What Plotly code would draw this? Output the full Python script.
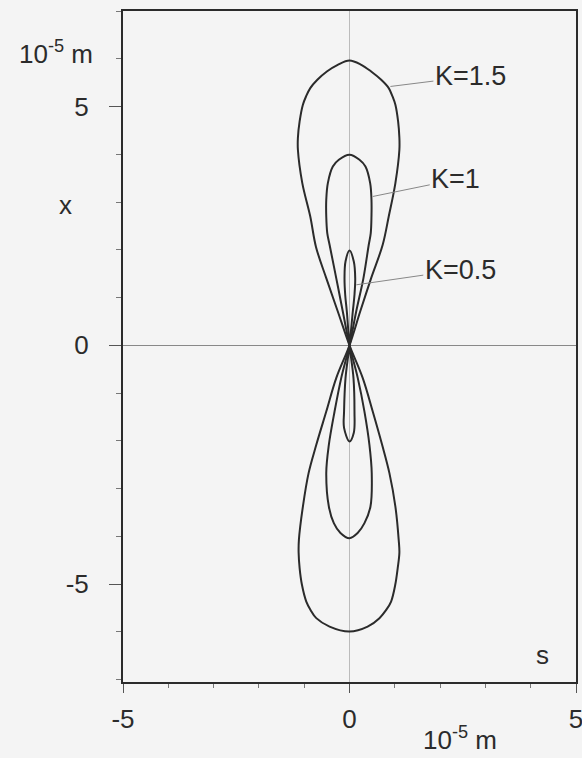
import plotly.graph_objects as go

# ---- data (units of 1e-5 m) ----
k15_s = [0, 0.236, 0.478, 0.733, 0.866, 1.013, 1.101, 1.101, 1.073, 1.013, 0.95, 0.866, 0.70, 0.478, 0.26, 0,
         -0.26, -0.50, -0.71, -0.866, -0.96, -1.029, -1.101, -1.139, -1.139, -1.042, -0.866, -0.74, -0.513, -0.258, 0,
         0.293, 0.513, 0.72, 0.881, 1.013, 1.086, 1.101, 1.064, 1.01, 0.918, 0.81, 0.661, 0.40, 0,
         -0.44, -0.733, -0.86, -0.954, -1.05, -1.101, -1.123, -1.117, -1.029, -0.903, -0.733, -0.513, -0.293, 0]
k15_x = [0, 0.708, 1.407, 2.105, 2.697, 3.397, 4.094, 4.346, 4.687, 5.037, 5.21, 5.386, 5.56, 5.734, 5.874, 5.964,
         5.874, 5.734, 5.56, 5.386, 5.21, 5.037, 4.687, 4.346, 4.094, 3.397, 2.697, 2.06, 1.407, 0.708, 0,
         -0.687, -1.387, -2.084, -2.676, -3.376, -4.073, -4.345, -4.666, -5.015, -5.365, -5.54, -5.713, -5.89, -5.994,
         -5.89, -5.713, -5.54, -5.365, -5.015, -4.666, -4.345, -4.073, -3.376, -2.676, -2.084, -1.387, -0.687, 0]

k10_s = [0, 0.148, 0.308, 0.425, 0.469, 0.485, 0.485, 0.456, 0.352, 0.22, 0,
         -0.235, -0.368, -0.478, -0.513, -0.513, -0.491, -0.44, -0.293, -0.148, 0,
         0.183, 0.33, 0.44, 0.491, 0.463, 0.33, 0.18, 0,
         -0.2, -0.346, -0.456, -0.513, -0.456, -0.33, -0.183, 0]
k10_x = [0, 0.708, 1.407, 2.105, 2.35, 2.697, 3.047, 3.397, 3.744, 3.885, 3.99,
         3.885, 3.744, 3.397, 3.047, 2.697, 2.35, 2.105, 1.407, 0.708, 0,
         -0.687, -1.387, -2.084, -2.676, -3.376, -3.724, -3.93, -4.04,
         -3.93, -3.724, -3.376, -2.676, -2.084, -1.387, -0.687, 0]

k05_s = [0, 0.073, 0.11, 0.126, 0.095, 0,
         -0.088, -0.11, -0.095, -0.059, 0,
         0.088, 0.11, 0.095, 0,
         -0.12, -0.12, -0.088, 0]
k05_x = [0, 0.708, 1.058, 1.407, 1.755, 1.985,
         1.755, 1.407, 1.058, 0.708, 0,
         -0.687, -1.387, -1.832, -2.015,
         -1.728, -1.387, -0.687, 0]

curve_labels = ["K=1.5", "K=1", "K=0.5"]
label_points_s = [0.903, 0.513, 0.15]
label_points_x = [5.42, 3.116, 1.267]

tick_vals = [-5, 0, 5]
tick_text = ["-5", "0", "5"]

# ---- figure ----
LINE = "#2b2b2b"
FONT = "Liberation Sans, Arial, sans-serif"
FS = 26

fig = go.Figure()
for s, x in [(k15_s, k15_x), (k10_s, k10_x), (k05_s, k05_x)]:
    fig.add_trace(go.Scatter(x=s, y=x, mode="lines",
                             line=dict(color=LINE, width=2, shape="spline", smoothing=1),
                             showlegend=False, hoverinfo="skip"))

offsets = [(80, -10), (83, -17), (104, -15)]
for lab, ps, px, (ax, ay) in zip(curve_labels, label_points_s, label_points_x, offsets):
    fig.add_annotation(x=ps, y=px, text=lab, showarrow=True, arrowhead=0,
                       arrowwidth=1, arrowcolor="#888", ax=ax, ay=ay,
                       xanchor="center", yanchor="middle",
                       font=dict(family=FONT, size=27, color="#2b2b2b"))

def paper_text(txt, x, y, yanchor="middle"):
    fig.add_annotation(xref="paper", yref="paper", x=x, y=y, text=txt,
                       showarrow=False, xanchor="center", yanchor=yanchor,
                       font=dict(family=FONT, size=FS, color="#2b2b2b"))

paper_text("10<sup>-5</sup> m", -0.147, 0.911, "bottom")
paper_text("x", -0.128, 0.711)
paper_text("s", 0.927, 0.040)
paper_text("10<sup>-5</sup> m", 0.744, -0.1125, "bottom")

axis_common = dict(showline=True, mirror=True, linecolor="#2b2b2b", linewidth=2,
                   showgrid=False, ticks="outside", tickcolor="#555", tickwidth=1,
                   tickvals=tick_vals, ticktext=tick_text, automargin=False,
                   ticklabeloverflow="allow",
                   tickfont=dict(family=FONT, size=FS, color="#2b2b2b"))

fig.update_xaxes(range=[-5, 5], ticklen=9, zeroline=True, zerolinecolor="#bbbbbb",
                 zerolinewidth=1, ticklabelstandoff=4,
                 minor=dict(dtick=1, ticks="outside", ticklen=4, tickcolor="#777"),
                 **axis_common)
fig.update_yaxes(range=[-7.05, 7.0], ticklen=12, zeroline=True, zerolinecolor="#888888",
                 zerolinewidth=1, ticklabelstandoff=15,
                 minor=dict(dtick=1, ticks="outside", ticklen=5, tickcolor="#777"),
                 **axis_common)

fig.update_layout(width=582, height=758, autosize=False,
                  margin=dict(l=123, r=6, t=11, b=76, autoexpand=False),
                  paper_bgcolor="#f4f4f4", plot_bgcolor="#f4f4f4",
                  font=dict(family=FONT, color="#2b2b2b"))

fig.write_html("out.html",
               config={"displayModeBar": False, "responsive": False},
               post_script="document.body.style.margin='0';document.body.style.overflow='hidden';")
